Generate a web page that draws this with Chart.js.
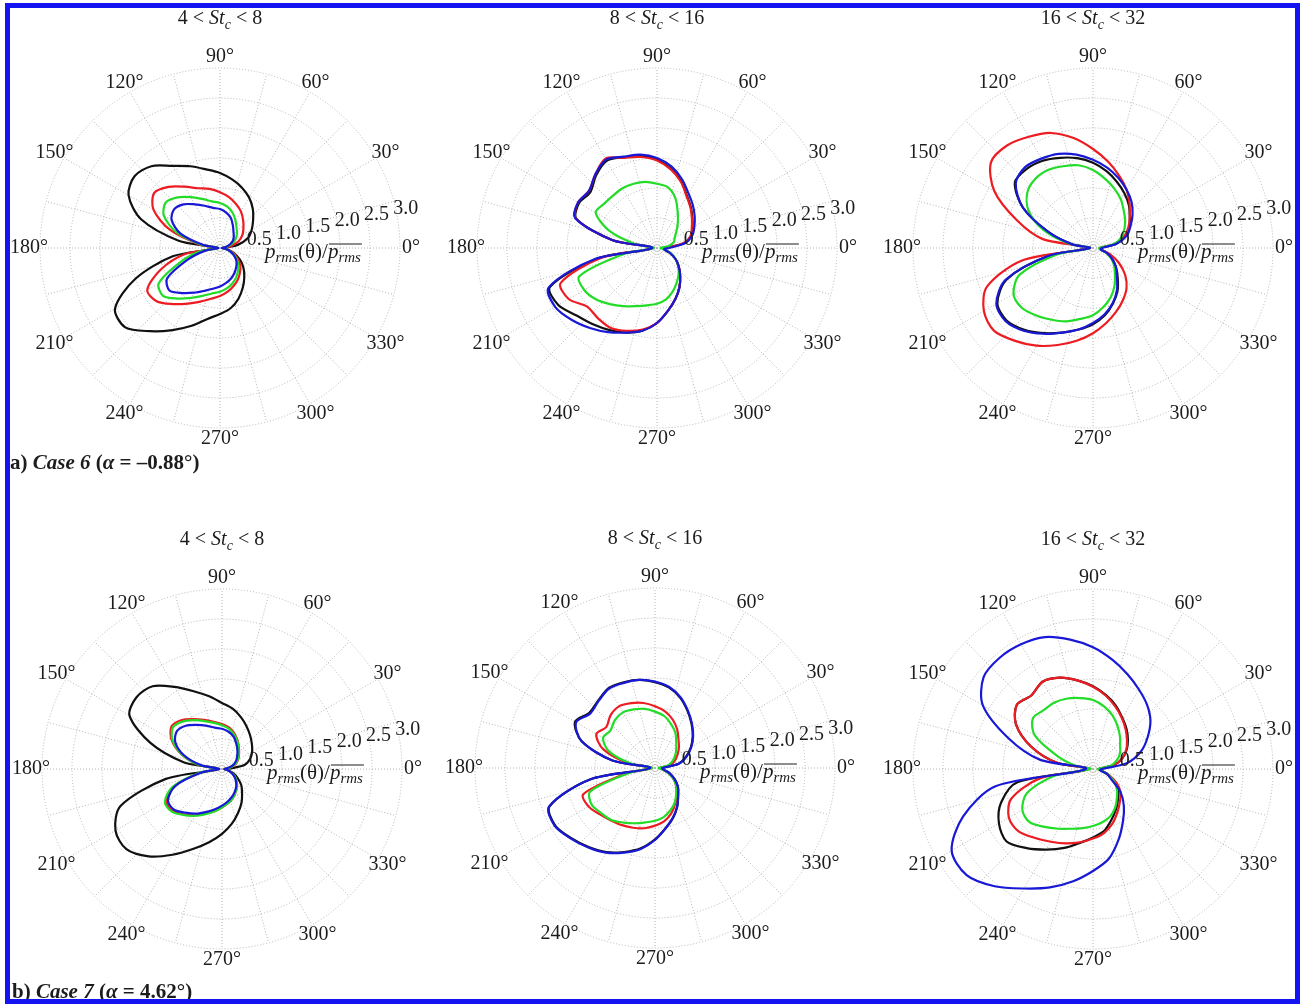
<!DOCTYPE html>
<html>
<head>
<meta charset="utf-8">
<script src="https://cdn.jsdelivr.net/npm/chart.js@4/dist/chart.umd.min.js"></script>
<style>
  html, body { margin: 0; padding: 0; background: #fff; }
  #page { position: relative; width: 1300px; height: 1005px; overflow: hidden; background: #fff; }
  #page canvas { position: absolute; }
  #frame { position: absolute; left: 5px; top: 3px; width: 1285px; height: 991px;
           border: 5px solid #1414f2; pointer-events: none; }
</style>
</head>
<body>
<div id="page"></div>
<script>
// Directivity of p_rms(theta)/mean(p_rms), sampled every 10 degrees (0..350, counter-clockwise from +x)
const ANGLES = [0, 10, 20, 30, 40, 50, 60, 70, 80, 90, 100, 110, 120, 130, 140, 150, 160, 170,
                180, 190, 200, 210, 220, 230, 240, 250, 260, 270, 280, 290, 300, 310, 320, 330, 340, 350];

// Radial rings and angular labels
const RING_TICKS = [0.5, 1.0, 1.5, 2.0, 2.5, 3.0];
const ANGLE_TICKS = [0, 30, 60, 90, 120, 150, 180, 210, 240, 270, 300, 330];
const STROUHAL_BANDS = [['4', '8'], ['8', '16'], ['16', '32']];

// Case 6, 4 < St_c < 8
const C6_B1_BLACK = [0.08,0.30,0.50,0.61,0.72,0.85,0.97,1.07,1.16,1.25,1.33,1.45,1.58,1.78,1.86,1.76,1.40,0.70,
                     0.10,0.80,1.50,2.02,2.06,1.81,1.58,1.38,1.20,1.10,1.02,0.90,0.76,0.63,0.51,0.38,0.24,0.12];
const C6_B1_RED   = [0.05,0.18,0.33,0.43,0.51,0.60,0.70,0.78,0.86,0.93,1.00,1.06,1.18,1.33,1.43,1.28,0.89,0.35,
                     0.05,0.60,1.05,1.40,1.38,1.22,1.07,0.95,0.86,0.80,0.74,0.67,0.60,0.52,0.44,0.33,0.23,0.12];
const C6_B1_GREEN = [0.04,0.12,0.22,0.30,0.37,0.43,0.52,0.62,0.70,0.75,0.79,0.87,0.98,1.10,1.18,1.08,0.78,0.32,
                     0.03,0.35,0.72,1.18,1.24,1.10,0.96,0.85,0.77,0.73,0.68,0.62,0.55,0.47,0.39,0.30,0.20,0.10];
const C6_B1_BLUE  = [0.03,0.10,0.18,0.25,0.30,0.35,0.43,0.53,0.60,0.65,0.68,0.75,0.84,0.95,1.00,0.93,0.70,0.28,
                     0.03,0.25,0.58,1.02,1.10,0.98,0.86,0.76,0.69,0.64,0.59,0.54,0.48,0.42,0.36,0.28,0.19,0.10];

// Case 6, 8 < St_c < 16
const C6_B2_BLACK = [0.15,0.45,0.60,0.68,0.77,0.88,1.00,1.18,1.34,1.47,1.56,1.61,1.68,1.58,1.45,1.50,1.43,0.75,
                     0.08,1.00,1.90,1.90,1.75,1.66,1.58,1.50,1.40,1.25,1.06,0.90,0.75,0.60,0.47,0.35,0.22,0.12];
const C6_B2_RED   = [0.15,0.45,0.60,0.67,0.76,0.87,0.99,1.17,1.33,1.46,1.54,1.60,1.72,1.60,1.48,1.52,1.44,0.75,
                     0.08,0.95,1.71,1.70,1.52,1.53,1.54,1.47,1.38,1.25,1.06,0.90,0.75,0.60,0.47,0.35,0.22,0.12];
const C6_B2_GREEN = [0.06,0.20,0.30,0.34,0.42,0.54,0.69,0.89,1.03,1.07,1.12,1.14,1.15,1.14,1.15,1.18,0.85,0.36,
                     0.05,0.55,1.38,1.40,1.33,1.22,1.12,1.03,0.97,0.93,0.87,0.77,0.66,0.56,0.46,0.35,0.23,0.12];
const C6_B2_BLUE  = [0.20,0.48,0.63,0.72,0.82,0.93,1.05,1.22,1.38,1.50,1.58,1.62,1.70,1.60,1.48,1.52,1.45,0.75,
                     0.08,1.05,1.92,1.96,1.86,1.74,1.62,1.50,1.40,1.25,1.06,0.90,0.75,0.60,0.47,0.35,0.22,0.12];

// Case 6, 16 < St_c < 32
const C6_B3_BLACK = [0.12,0.38,0.57,0.70,0.80,0.93,1.05,1.17,1.30,1.42,1.52,1.60,1.68,1.72,1.70,1.35,0.80,0.36,
                     0.05,0.75,1.53,1.84,1.88,1.78,1.64,1.50,1.38,1.27,1.14,0.98,0.82,0.64,0.50,0.37,0.25,0.13];
const C6_B3_RED   = [0.12,0.36,0.55,0.68,0.80,0.95,1.12,1.28,1.46,1.65,1.86,2.04,2.14,2.23,2.22,1.90,1.35,0.85,
                     0.12,1.20,1.88,2.10,2.15,2.02,1.88,1.72,1.57,1.42,1.27,1.13,1.00,0.87,0.70,0.50,0.30,0.15];
const C6_B3_GREEN = [0.10,0.35,0.50,0.60,0.70,0.80,0.93,1.05,1.17,1.30,1.40,1.45,1.50,1.50,1.43,1.24,0.88,0.40,
                     0.05,0.60,1.30,1.53,1.55,1.47,1.38,1.30,1.20,1.12,1.00,0.87,0.72,0.57,0.46,0.35,0.23,0.12];
const C6_B3_BLUE  = [0.15,0.40,0.60,0.72,0.86,1.00,1.12,1.24,1.36,1.47,1.58,1.67,1.72,1.76,1.68,1.35,0.80,0.35,
                     0.05,0.75,1.55,1.86,1.90,1.80,1.65,1.50,1.38,1.25,1.12,0.97,0.80,0.62,0.50,0.37,0.25,0.13];

// Case 7, 4 < St_c < 8
const C7_B1_BLACK = [0.10,0.38,0.50,0.58,0.65,0.73,0.82,0.92,1.02,1.10,1.23,1.38,1.58,1.80,1.86,1.78,1.27,0.65,
                     0.10,0.95,1.80,2.05,2.08,1.90,1.65,1.42,1.24,1.08,0.93,0.78,0.65,0.52,0.42,0.30,0.20,0.10];
const C7_B1_RED   = [0.04,0.13,0.24,0.31,0.37,0.44,0.53,0.62,0.70,0.75,0.80,0.87,0.96,1.06,1.10,0.97,0.72,0.40,
                     0.05,0.38,0.86,1.07,1.08,0.99,0.89,0.79,0.71,0.64,0.58,0.52,0.45,0.39,0.32,0.25,0.17,0.09];
const C7_B1_GREEN = [0.04,0.13,0.23,0.30,0.36,0.43,0.52,0.60,0.68,0.73,0.78,0.85,0.94,1.03,1.07,0.95,0.71,0.39,
                     0.05,0.40,0.88,1.10,1.10,1.00,0.90,0.80,0.72,0.64,0.58,0.52,0.45,0.39,0.32,0.25,0.17,0.09];
const C7_B1_BLUE  = [0.04,0.11,0.20,0.27,0.33,0.40,0.48,0.57,0.63,0.67,0.70,0.77,0.85,0.94,0.98,0.90,0.68,0.35,
                     0.04,0.36,0.83,1.04,1.05,0.95,0.86,0.76,0.68,0.61,0.55,0.49,0.43,0.37,0.30,0.23,0.16,0.08];

// Case 7, 8 < St_c < 16
const C7_B2_BLACK = [0.12,0.40,0.55,0.69,0.82,0.95,1.09,1.24,1.36,1.43,1.49,1.52,1.54,1.47,1.43,1.54,1.30,0.72,
                     0.08,1.10,1.87,1.92,1.82,1.72,1.62,1.49,1.36,1.19,1.02,0.88,0.74,0.60,0.50,0.38,0.26,0.14];
const C7_B2_RED   = [0.08,0.25,0.35,0.43,0.52,0.61,0.74,0.86,0.96,1.03,1.10,1.15,1.19,1.15,1.06,1.13,0.92,0.45,
                     0.05,0.45,1.27,1.28,1.20,1.14,1.10,1.06,1.02,0.96,0.90,0.80,0.68,0.56,0.46,0.35,0.23,0.12];
const C7_B2_GREEN = [0.06,0.20,0.30,0.38,0.46,0.55,0.68,0.78,0.88,0.94,1.00,1.04,1.07,1.04,0.97,1.00,0.82,0.40,
                     0.04,0.40,1.15,1.22,1.17,1.13,1.05,0.98,0.92,0.88,0.83,0.75,0.66,0.55,0.46,0.35,0.23,0.12];
const C7_B2_BLUE  = [0.12,0.40,0.56,0.70,0.83,0.96,1.10,1.25,1.37,1.44,1.49,1.51,1.53,1.46,1.41,1.52,1.30,0.72,
                     0.08,1.10,1.88,1.93,1.83,1.73,1.63,1.50,1.37,1.20,1.02,0.88,0.74,0.60,0.50,0.38,0.26,0.14];

// Case 7, 16 < St_c < 32
const C7_B3_BLACK = [0.10,0.35,0.52,0.65,0.76,0.87,0.98,1.12,1.25,1.38,1.50,1.62,1.68,1.60,1.66,1.48,1.10,0.62,
                     0.08,1.28,1.63,1.81,1.88,1.72,1.55,1.40,1.25,1.14,1.05,0.90,0.77,0.65,0.55,0.40,0.26,0.14];
const C7_B3_RED   = [0.10,0.35,0.52,0.64,0.74,0.85,0.97,1.10,1.24,1.37,1.50,1.62,1.68,1.60,1.66,1.48,1.10,0.62,
                     0.08,0.90,1.45,1.62,1.62,1.50,1.40,1.32,1.24,1.16,1.08,0.96,0.82,0.70,0.60,0.45,0.28,0.15];
const C7_B3_GREEN = [0.08,0.30,0.42,0.52,0.59,0.70,0.82,0.95,1.06,1.15,1.20,1.25,1.28,1.28,1.31,1.12,0.63,0.28,
                     0.04,0.65,1.17,1.36,1.38,1.26,1.15,1.06,1.00,0.95,0.90,0.84,0.74,0.62,0.52,0.40,0.26,0.14];
const C7_B3_BLUE  = [0.15,0.58,0.85,1.05,1.25,1.40,1.53,1.68,1.85,2.03,2.19,2.34,2.40,2.42,2.38,2.12,1.50,0.90,
                     0.12,1.65,2.30,2.72,2.75,2.55,2.30,2.10,1.90,1.70,1.52,1.25,1.00,0.80,0.60,0.36,0.25,0.12];

const COLORS = { black: '#111111', red: '#ec1c22', green: '#22dc28', blue: '#1818d6' };
const TEXT_COLOR = '#1c1c1c';
const GRID_COLOR = '#b4b4b4';
const SERIF = '"Liberation Serif", "Times New Roman", serif';

const PANELS = [
  { cx: 220,  cy: 248, band: 0, caseLabel: ['a', '6', '\u20130.88\u00b0'], curves: [C6_B1_BLACK, C6_B1_RED, C6_B1_GREEN, C6_B1_BLUE] },
  { cx: 657,  cy: 248, band: 1, curves: [C6_B2_BLACK, C6_B2_RED, C6_B2_GREEN, C6_B2_BLUE] },
  { cx: 1093, cy: 248, band: 2, curves: [C6_B3_BLACK, C6_B3_RED, C6_B3_GREEN, C6_B3_BLUE] },
  { cx: 222,  cy: 769, band: 0, caseLabel: ['b', '7', '4.62\u00b0'], caseDy: 229, curves: [C7_B1_BLACK, C7_B1_RED, C7_B1_GREEN, C7_B1_BLUE] },
  { cx: 655,  cy: 768, band: 1, curves: [C7_B2_BLACK, C7_B2_RED, C7_B2_GREEN, C7_B2_BLUE] },
  { cx: 1093, cy: 769, band: 2, curves: [C7_B3_BLACK, C7_B3_RED, C7_B3_GREEN, C7_B3_BLUE] }
];

// Radar slots every 5 degrees, running clockwise from +x (startAngle 90), so slot i sits at -5*i degrees
const SLOT_STEP = 5;
const SLOT_COUNT = 360 / SLOT_STEP;
const slotOf = a => ((360 - a) % 360) / SLOT_STEP;
const slotLabels = Array.from({ length: SLOT_COUNT }, (_, i) => ((360 - i * SLOT_STEP) % 360) + '\u00b0');
function toSlots(values) {
  const out = new Array(SLOT_COUNT).fill(null);
  ANGLES.forEach((a, k) => { out[slotOf(a)] = values[k]; });
  return out;
}

// Draw a run of differently styled text pieces on one baseline
function drawRuns(ctx, runs, x, y, align) {
  let total = 0;
  runs.forEach(r => { ctx.font = r.font; r.w = ctx.measureText(r.t).width; total += r.w; });
  let px = align === 'center' ? x - total / 2 : x;
  const spans = [];
  runs.forEach(r => {
    ctx.font = r.font;
    ctx.fillText(r.t, px, y + (r.dy || 0));
    spans.push([px, px + r.w]);
    px += r.w;
  });
  return spans;
}

const CANVAS_W = 436, CANVAS_H = 500, PAD_L = 38, PAD_T = 60;

const decorations = {
  id: 'polarDecorations',
  afterDraw(chart, args, opts) {
    const ctx = chart.ctx;
    const s = chart.scales.r;
    const xc = s.xCenter, yc = s.yCenter;
    ctx.save();
    ctx.fillStyle = TEXT_COLOR;
    ctx.strokeStyle = TEXT_COLOR;
    ctx.textBaseline = 'middle';
    ctx.textAlign = 'center';
    ctx.font = '20px ' + SERIF;
    // angle labels
    ANGLE_TICKS.forEach(a => {
      const p = s.getPointPosition(slotOf(a), s.drawingArea + 11);
      ctx.fillText(a + '\u00b0', p.x, p.y);
    });
    // ring labels along a ray slightly above 0 degrees
    const tilt = 12 * Math.PI / 180;
    RING_TICKS.forEach(v => {
      const d = s.getDistanceFromCenterForValue(v) + 10;
      ctx.fillText(v.toFixed(1), xc + d * Math.cos(tilt), yc - d * Math.sin(tilt));
    });
    // radial quantity name
    ctx.textAlign = 'left';
    ctx.textBaseline = 'alphabetic';
    const it = 'italic 21px ' + SERIF, sub = 'italic 15px ' + SERIF, up = '21px ' + SERIF;
    const spans = drawRuns(ctx, [
      { t: 'p', font: it }, { t: 'rms', font: sub, dy: 4 }, { t: '(\u03b8)/', font: up },
      { t: 'p', font: it }, { t: 'rms', font: sub, dy: 4 }
    ], xc + 45, yc + 10, 'left');
    ctx.lineWidth = 1.2;
    ctx.beginPath();
    ctx.moveTo(spans[3][0] + 1, yc - 4);
    ctx.lineTo(spans[4][1] + 1, yc - 4);
    ctx.stroke();
    // Strouhal band title
    const band = STROUHAL_BANDS[opts.band];
    drawRuns(ctx, [
      { t: band[0] + ' < ', font: '20px ' + SERIF }, { t: 'St', font: 'italic 20px ' + SERIF },
      { t: 'c', font: 'italic 14px ' + SERIF, dy: 5 }, { t: ' < ' + band[1], font: '20px ' + SERIF }
    ], xc, yc - 224, 'center');
    // case label
    if (opts.caseLabel) {
      const b = 'bold 21px ' + SERIF, bi = 'italic bold 21px ' + SERIF;
      const [letter, num, alpha] = opts.caseLabel;
      drawRuns(ctx, [
        { t: letter + ') ', font: b }, { t: 'Case ' + num, font: bi }, { t: ' (', font: b },
        { t: '\u03b1', font: bi }, { t: ' = ' + alpha + ')', font: b }
      ], xc - 210, yc + opts.caseDy, 'left');
    }
    ctx.restore();
  }
};

const page = document.getElementById('page');
const ORDER = ['black', 'red', 'green', 'blue'];
const DRAW_ORDER = { blue: 0, green: 1, red: 2, black: 3 };

PANELS.forEach(panel => {
  const canvas = document.createElement('canvas');
  canvas.width = CANVAS_W;
  canvas.height = CANVAS_H;
  canvas.style.left = (panel.cx - PAD_L - 180) + 'px';
  canvas.style.top = (panel.cy - PAD_T - 180) + 'px';
  page.appendChild(canvas);

  new Chart(canvas, {
    type: 'radar',
    data: {
      labels: slotLabels,
      datasets: panel.curves.map((vals, k) => ({
        label: ORDER[k],
        data: toSlots(vals),
        borderColor: COLORS[ORDER[k]],
        backgroundColor: 'rgba(0,0,0,0)',
        borderWidth: 2.2,
        fill: false,
        spanGaps: true,
        tension: 0.3,
        pointRadius: 0,
        pointHitRadius: 0,
        order: DRAW_ORDER[ORDER[k]]
      }))
    },
    options: {
      responsive: false,
      animation: false,
      devicePixelRatio: 1,
      layout: { padding: { left: PAD_L, right: CANVAS_W - PAD_L - 360, top: PAD_T, bottom: CANVAS_H - PAD_T - 360 } },
      plugins: {
        legend: { display: false },
        tooltip: { enabled: false },
        polarDecorations: { band: panel.band, caseLabel: panel.caseLabel, caseDy: panel.caseDy || 221 }
      },
      scales: {
        r: {
          min: 0,
          max: 3,
          startAngle: 90,
          ticks: { display: false, stepSize: 0.5 },
          pointLabels: { display: false },
          grid: { circular: true, color: GRID_COLOR, lineWidth: 1 },
          border: { dash: [1, 2] },
          angleLines: {
            display: true,
            color: c => (c.index % 3 === 0 ? GRID_COLOR : 'rgba(0,0,0,0)'),
            lineWidth: 1,
            borderDash: [1, 2]
          }
        }
      }
    },
    plugins: [decorations]
  });
});

const frame = document.createElement('div');
frame.id = 'frame';
page.appendChild(frame);
</script>
</body>
</html>
